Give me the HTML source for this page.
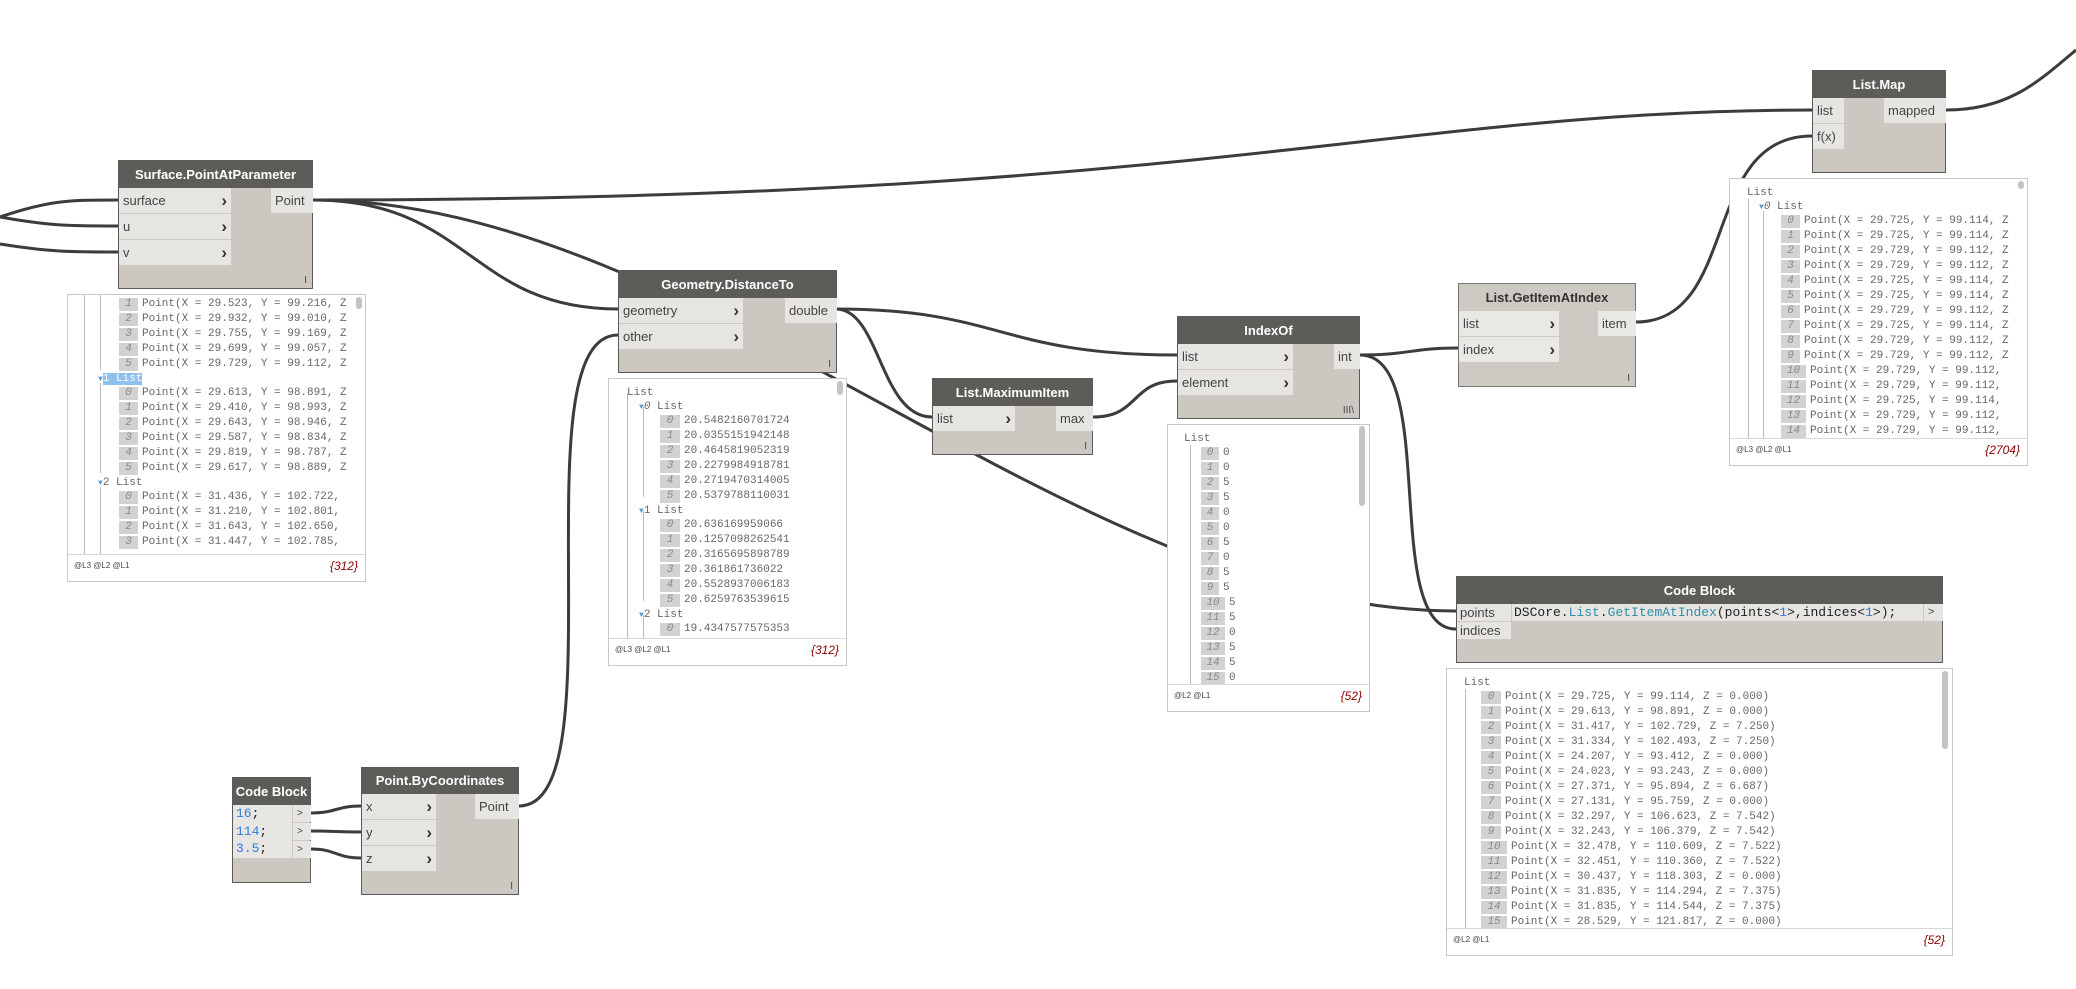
<!DOCTYPE html>
<html><head><meta charset="utf-8">
<style>
*{margin:0;padding:0;box-sizing:border-box}
body{width:2076px;height:989px;background:#fff;position:relative;overflow:hidden;font-family:"Liberation Sans",sans-serif}
.n{position:absolute;background:#ccc8c1;border:1px solid #5a5a5a}
.h{position:absolute;left:0;right:0;top:0;background:#5e5c59;color:#fff;font-weight:bold;font-size:13px;text-align:center}
.p{position:absolute;background:#e6e5e2;color:#444;font-size:13px;line-height:25px;height:25px;padding-left:4px}
.p b{position:absolute;right:4px;top:0;font-size:17px;color:#333}
.lac{position:absolute;right:5px;bottom:2px;font-size:10px;color:#444}
.pv{position:absolute;background:#fff;border:1px solid #c8c8c8;font-family:"Liberation Mono",monospace;font-size:11px;color:#666}
.in{position:absolute;left:0;top:0;right:0;height:260px;overflow:hidden;border-bottom:1px solid #d8d8d8}
.r{position:absolute;white-space:nowrap;height:15px;line-height:15px}
.i{display:inline-block;background:#d2d2d2;color:#888;font-style:italic;text-align:center;margin-right:4px;height:13px;line-height:13px}
.ft{position:absolute;top:266px;left:6px;font-size:8px;color:#444;font-family:"Liberation Sans",sans-serif}
.ct{position:absolute;top:264px;right:7px;font-size:12px;font-style:italic;color:#8b0000;font-family:"Liberation Sans",sans-serif}
.vl{position:absolute;width:1px;background:#bbb}
.ar{color:#5b9bd5;font-size:8px}
.sb{position:absolute;background:#c4c4c4;border-radius:3px;width:6px}
</style></head><body>
<svg width="2076" height="989" style="position:absolute;left:0;top:0" fill="none" stroke="#3c3c3c" stroke-width="3">
<path d="M0,217 C50,200 70,200 118,200"/>
<path d="M0,217 C50,226 70,226 118,226"/>
<path d="M0,244 C50,252 70,252 118,252"/>
<path d="M313,200 C1200,200 1400,110 1812,110"/>
<path d="M313,200 C470,200 470,309 618,309"/>
<path d="M313,200 C700,200 1070,611 1456,611"/>
<path d="M519,806 C620,806 517,335 618,335"/>
<path d="M311,813 C336,813 336,806 361,806"/>
<path d="M311,831 C336,831 336,832 361,832"/>
<path d="M311,849 C336,849 336,858 361,858"/>
<path d="M836,309 C1000,309 1000,355 1177,355"/>
<path d="M836,309 C880,309 880,417 932,417"/>
<path d="M1093,417 C1140,417 1130,381 1177,381"/>
<path d="M1360,355 C1410,355 1410,348 1458,348"/>
<path d="M1360,355 C1440,355 1380,629 1456,629"/>
<path d="M1636,322 C1740,322 1700,136 1812,136"/>
<path d="M1946,110 C2010,110 2040,80 2076,50"/>
</svg>

<!-- Surface.PointAtParameter -->
<div class="n" style="left:118px;top:160px;width:195px;height:129px">
<div class="h" style="height:27px;line-height:27px">Surface.PointAtParameter</div>
<div class="p" style="left:0;top:27px;width:112px">surface<b>›</b></div>
<div class="p" style="left:0;top:53px;width:112px">u<b>›</b></div>
<div class="p" style="left:0;top:79px;width:112px">v<b>›</b></div>
<div class="p" style="left:152px;top:27px;width:42px">Point</div>
<div class="lac">I</div></div>
<div class="pv" style="left:67px;top:294px;width:299px;height:288px"><div class="in">
<div class="vl" style="left:16px;top:0;height:260px"></div><div class="vl" style="left:32px;top:0;height:75px"></div><div class="vl" style="left:32px;top:88px;height:90px"></div><div class="vl" style="left:32px;top:192px;height:70px"></div>
<div class="r" style="top:2px;left:51px"><span class="i" style="width:19px">1</span>Point(X = 29.523, Y = 99.216, Z</div>
<div class="r" style="top:17px;left:51px"><span class="i" style="width:19px">2</span>Point(X = 29.932, Y = 99.010, Z</div>
<div class="r" style="top:32px;left:51px"><span class="i" style="width:19px">3</span>Point(X = 29.755, Y = 99.169, Z</div>
<div class="r" style="top:47px;left:51px"><span class="i" style="width:19px">4</span>Point(X = 29.699, Y = 99.057, Z</div>
<div class="r" style="top:62px;left:51px"><span class="i" style="width:19px">5</span>Point(X = 29.729, Y = 99.112, Z</div>
<div class="r" style="top:77px;left:30px"><span class="ar">▼</span><span style="background:#8fc0ee;color:#fff">1 List</span></div>
<div class="r" style="top:91px;left:51px"><span class="i" style="width:19px">0</span>Point(X = 29.613, Y = 98.891, Z</div>
<div class="r" style="top:106px;left:51px"><span class="i" style="width:19px">1</span>Point(X = 29.410, Y = 98.993, Z</div>
<div class="r" style="top:121px;left:51px"><span class="i" style="width:19px">2</span>Point(X = 29.643, Y = 98.946, Z</div>
<div class="r" style="top:136px;left:51px"><span class="i" style="width:19px">3</span>Point(X = 29.587, Y = 98.834, Z</div>
<div class="r" style="top:151px;left:51px"><span class="i" style="width:19px">4</span>Point(X = 29.819, Y = 98.787, Z</div>
<div class="r" style="top:166px;left:51px"><span class="i" style="width:19px">5</span>Point(X = 29.617, Y = 98.889, Z</div>
<div class="r" style="top:181px;left:30px"><span class="ar">▼</span>2 List</div>
<div class="r" style="top:195px;left:51px"><span class="i" style="width:19px">0</span>Point(X = 31.436, Y = 102.722,</div>
<div class="r" style="top:210px;left:51px"><span class="i" style="width:19px">1</span>Point(X = 31.210, Y = 102.801,</div>
<div class="r" style="top:225px;left:51px"><span class="i" style="width:19px">2</span>Point(X = 31.643, Y = 102.650,</div>
<div class="r" style="top:240px;left:51px"><span class="i" style="width:19px">3</span>Point(X = 31.447, Y = 102.785,</div>
<div class="sb" style="left:288px;top:2px;height:12px"></div>
</div><div class="ft">@L3 @L2 @L1</div><div class="ct">{312}</div></div>

<!-- Geometry.DistanceTo -->
<div class="n" style="left:618px;top:270px;width:219px;height:103px">
<div class="h" style="height:27px;line-height:27px">Geometry.DistanceTo</div>
<div class="p" style="left:0;top:27px;width:124px">geometry<b>›</b></div>
<div class="p" style="left:0;top:53px;width:124px">other<b>›</b></div>
<div class="p" style="left:166px;top:27px;width:52px">double</div>
<div class="lac">I</div></div>
<div class="pv" style="left:608px;top:378px;width:239px;height:288px"><div class="in">
<div class="vl" style="left:18px;top:14px;height:250px"></div><div class="vl" style="left:34px;top:28px;height:90px"></div><div class="vl" style="left:34px;top:132px;height:90px"></div><div class="vl" style="left:34px;top:236px;height:30px"></div>
<div class="r" style="top:7px;left:18px">List</div>
<div class="r" style="top:21px;left:30px"><span class="ar">▼</span><i>0</i> List</div>
<div class="r" style="top:35px;left:51px"><span class="i" style="width:20px">0</span>20.5482160701724</div>
<div class="r" style="top:50px;left:51px"><span class="i" style="width:20px">1</span>20.0355151942148</div>
<div class="r" style="top:65px;left:51px"><span class="i" style="width:20px">2</span>20.4645819052319</div>
<div class="r" style="top:80px;left:51px"><span class="i" style="width:20px">3</span>20.2279984918781</div>
<div class="r" style="top:95px;left:51px"><span class="i" style="width:20px">4</span>20.2719470314005</div>
<div class="r" style="top:110px;left:51px"><span class="i" style="width:20px">5</span>20.5379788110031</div>
<div class="r" style="top:125px;left:30px"><span class="ar">▼</span>1 List</div>
<div class="r" style="top:139px;left:51px"><span class="i" style="width:20px">0</span>20.636169959066</div>
<div class="r" style="top:154px;left:51px"><span class="i" style="width:20px">1</span>20.1257098262541</div>
<div class="r" style="top:169px;left:51px"><span class="i" style="width:20px">2</span>20.3165695898789</div>
<div class="r" style="top:184px;left:51px"><span class="i" style="width:20px">3</span>20.361861736022</div>
<div class="r" style="top:199px;left:51px"><span class="i" style="width:20px">4</span>20.5528937006183</div>
<div class="r" style="top:214px;left:51px"><span class="i" style="width:20px">5</span>20.6259763539615</div>
<div class="r" style="top:229px;left:30px"><span class="ar">▼</span>2 List</div>
<div class="r" style="top:243px;left:51px"><span class="i" style="width:20px">0</span>19.4347577575353</div>
<div class="sb" style="left:228px;top:2px;height:14px"></div>
</div><div class="ft">@L3 @L2 @L1</div><div class="ct">{312}</div></div>

<!-- List.MaximumItem -->
<div class="n" style="left:932px;top:378px;width:161px;height:77px">
<div class="h" style="height:27px;line-height:27px">List.MaximumItem</div>
<div class="p" style="left:0;top:27px;width:82px">list<b>›</b></div>
<div class="p" style="left:123px;top:27px;width:37px">max</div>
<div class="lac">I</div></div>

<!-- IndexOf -->
<div class="n" style="left:1177px;top:316px;width:183px;height:103px">
<div class="h" style="height:27px;line-height:27px">IndexOf</div>
<div class="p" style="left:0;top:27px;width:115px">list<b>›</b></div>
<div class="p" style="left:0;top:53px;width:115px">element<b>›</b></div>
<div class="p" style="left:156px;top:27px;width:26px">int</div>
<div class="lac">III\</div></div>
<div class="pv" style="left:1167px;top:424px;width:203px;height:288px"><div class="in">
<div class="vl" style="left:22px;top:20px;height:245px"></div>
<div class="r" style="top:7px;left:16px">List</div>
<div class="r" style="top:21px;left:33px"><span class="i" style="width:18px">0</span>0</div>
<div class="r" style="top:36px;left:33px"><span class="i" style="width:18px">1</span>0</div>
<div class="r" style="top:51px;left:33px"><span class="i" style="width:18px">2</span>5</div>
<div class="r" style="top:66px;left:33px"><span class="i" style="width:18px">3</span>5</div>
<div class="r" style="top:81px;left:33px"><span class="i" style="width:18px">4</span>0</div>
<div class="r" style="top:96px;left:33px"><span class="i" style="width:18px">5</span>0</div>
<div class="r" style="top:111px;left:33px"><span class="i" style="width:18px">6</span>5</div>
<div class="r" style="top:126px;left:33px"><span class="i" style="width:18px">7</span>0</div>
<div class="r" style="top:141px;left:33px"><span class="i" style="width:18px">8</span>5</div>
<div class="r" style="top:156px;left:33px"><span class="i" style="width:18px">9</span>5</div>
<div class="r" style="top:171px;left:33px"><span class="i" style="width:24px">10</span>5</div>
<div class="r" style="top:186px;left:33px"><span class="i" style="width:24px">11</span>5</div>
<div class="r" style="top:201px;left:33px"><span class="i" style="width:24px">12</span>0</div>
<div class="r" style="top:216px;left:33px"><span class="i" style="width:24px">13</span>5</div>
<div class="r" style="top:231px;left:33px"><span class="i" style="width:24px">14</span>5</div>
<div class="r" style="top:246px;left:33px"><span class="i" style="width:24px">15</span>0</div>
<div class="sb" style="left:191px;top:1px;height:80px"></div>
</div><div class="ft">@L2 @L1</div><div class="ct">{52}</div></div>

<!-- List.GetItemAtIndex -->
<div class="n" style="left:1458px;top:283px;width:178px;height:104px;background:#cdc9c3;border-color:#777">
<div class="h" style="height:27px;line-height:27px;background:#cdc9c3;color:#333">List.GetItemAtIndex</div>
<div class="p" style="left:0;top:27px;width:100px;background:#e9e8e5">list<b>›</b></div>
<div class="p" style="left:0;top:53px;width:100px;background:#e9e8e5">index<b>›</b></div>
<div class="p" style="left:139px;top:27px;width:38px;background:#e9e8e5">item</div>
<div class="lac">I</div></div>

<!-- List.Map -->
<div class="n" style="left:1812px;top:70px;width:134px;height:103px">
<div class="h" style="height:27px;line-height:27px">List.Map</div>
<div class="p" style="left:0;top:27px;width:31px">list</div>
<div class="p" style="left:0;top:53px;width:31px">f(x)</div>
<div class="p" style="left:71px;top:27px;width:62px">mapped</div></div>
<div class="pv" style="left:1729px;top:178px;width:299px;height:288px"><div class="in">
<div class="vl" style="left:18px;top:20px;height:245px"></div><div class="vl" style="left:33px;top:32px;height:235px"></div>
<div class="r" style="top:7px;left:17px">List</div>
<div class="r" style="top:21px;left:29px"><span class="ar">▼</span><i>0</i> List</div>
<div class="r" style="top:35px;left:51px"><span class="i" style="width:19px">0</span>Point(X = 29.725, Y = 99.114, Z</div>
<div class="r" style="top:50px;left:51px"><span class="i" style="width:19px">1</span>Point(X = 29.725, Y = 99.114, Z</div>
<div class="r" style="top:65px;left:51px"><span class="i" style="width:19px">2</span>Point(X = 29.729, Y = 99.112, Z</div>
<div class="r" style="top:80px;left:51px"><span class="i" style="width:19px">3</span>Point(X = 29.729, Y = 99.112, Z</div>
<div class="r" style="top:95px;left:51px"><span class="i" style="width:19px">4</span>Point(X = 29.725, Y = 99.114, Z</div>
<div class="r" style="top:110px;left:51px"><span class="i" style="width:19px">5</span>Point(X = 29.725, Y = 99.114, Z</div>
<div class="r" style="top:125px;left:51px"><span class="i" style="width:19px">6</span>Point(X = 29.729, Y = 99.112, Z</div>
<div class="r" style="top:140px;left:51px"><span class="i" style="width:19px">7</span>Point(X = 29.725, Y = 99.114, Z</div>
<div class="r" style="top:155px;left:51px"><span class="i" style="width:19px">8</span>Point(X = 29.729, Y = 99.112, Z</div>
<div class="r" style="top:170px;left:51px"><span class="i" style="width:19px">9</span>Point(X = 29.729, Y = 99.112, Z</div>
<div class="r" style="top:185px;left:51px"><span class="i" style="width:25px">10</span>Point(X = 29.729, Y = 99.112,</div>
<div class="r" style="top:200px;left:51px"><span class="i" style="width:25px">11</span>Point(X = 29.729, Y = 99.112,</div>
<div class="r" style="top:215px;left:51px"><span class="i" style="width:25px">12</span>Point(X = 29.725, Y = 99.114,</div>
<div class="r" style="top:230px;left:51px"><span class="i" style="width:25px">13</span>Point(X = 29.729, Y = 99.112,</div>
<div class="r" style="top:245px;left:51px"><span class="i" style="width:25px">14</span>Point(X = 29.729, Y = 99.112,</div>
<div class="sb" style="left:288px;top:2px;height:8px"></div>
</div><div class="ft">@L3 @L2 @L1</div><div class="ct">{2704}</div></div>

<!-- Code Block big -->
<div class="n" style="left:1456px;top:576px;width:487px;height:87px">
<div class="h" style="height:27px;line-height:27px">Code Block</div>
<div class="p" style="left:0;top:27px;width:54px;height:17px;line-height:17px;padding-left:3px">points</div>
<div class="p" style="left:0;top:45px;width:54px;height:17px;line-height:17px;padding-left:3px">indices</div>
<div class="p" style="left:55px;top:27px;width:411px;height:17px;line-height:17px;font-family:'Liberation Mono',monospace;font-size:13px;color:#222;padding-left:2px">DSCore.<span style="color:#2e8fa8">List</span>.<span style="color:#2e8fa8">GetItemAtIndex</span>(points&lt;<span style="color:#2b7de0">1</span>&gt;,indices&lt;<span style="color:#2b7de0">1</span>&gt;);</div>
<div class="p" style="left:467px;top:27px;width:19px;height:17px;line-height:17px;font-size:11px">&gt;</div></div>
<div class="pv" style="left:1446px;top:668px;width:507px;height:288px"><div class="in">
<div class="vl" style="left:18px;top:20px;height:245px"></div>
<div class="r" style="top:7px;left:17px">List</div>
<div class="r" style="top:21px;left:34px"><span class="i" style="width:20px">0</span>Point(X = 29.725, Y = 99.114, Z = 0.000)</div>
<div class="r" style="top:36px;left:34px"><span class="i" style="width:20px">1</span>Point(X = 29.613, Y = 98.891, Z = 0.000)</div>
<div class="r" style="top:51px;left:34px"><span class="i" style="width:20px">2</span>Point(X = 31.417, Y = 102.729, Z = 7.250)</div>
<div class="r" style="top:66px;left:34px"><span class="i" style="width:20px">3</span>Point(X = 31.334, Y = 102.493, Z = 7.250)</div>
<div class="r" style="top:81px;left:34px"><span class="i" style="width:20px">4</span>Point(X = 24.207, Y = 93.412, Z = 0.000)</div>
<div class="r" style="top:96px;left:34px"><span class="i" style="width:20px">5</span>Point(X = 24.023, Y = 93.243, Z = 0.000)</div>
<div class="r" style="top:111px;left:34px"><span class="i" style="width:20px">6</span>Point(X = 27.371, Y = 95.894, Z = 6.687)</div>
<div class="r" style="top:126px;left:34px"><span class="i" style="width:20px">7</span>Point(X = 27.131, Y = 95.759, Z = 0.000)</div>
<div class="r" style="top:141px;left:34px"><span class="i" style="width:20px">8</span>Point(X = 32.297, Y = 106.623, Z = 7.542)</div>
<div class="r" style="top:156px;left:34px"><span class="i" style="width:20px">9</span>Point(X = 32.243, Y = 106.379, Z = 7.542)</div>
<div class="r" style="top:171px;left:34px"><span class="i" style="width:26px">10</span>Point(X = 32.478, Y = 110.609, Z = 7.522)</div>
<div class="r" style="top:186px;left:34px"><span class="i" style="width:26px">11</span>Point(X = 32.451, Y = 110.360, Z = 7.522)</div>
<div class="r" style="top:201px;left:34px"><span class="i" style="width:26px">12</span>Point(X = 30.437, Y = 118.303, Z = 0.000)</div>
<div class="r" style="top:216px;left:34px"><span class="i" style="width:26px">13</span>Point(X = 31.835, Y = 114.294, Z = 7.375)</div>
<div class="r" style="top:231px;left:34px"><span class="i" style="width:26px">14</span>Point(X = 31.835, Y = 114.544, Z = 7.375)</div>
<div class="r" style="top:246px;left:34px"><span class="i" style="width:26px">15</span>Point(X = 28.529, Y = 121.817, Z = 0.000)</div>
<div class="sb" style="left:495px;top:2px;height:78px"></div>
</div><div class="ft">@L2 @L1</div><div class="ct">{52}</div></div>

<!-- Code Block small -->
<div class="n" style="left:232px;top:777px;width:79px;height:106px">
<div class="h" style="height:27px;line-height:27px">Code Block</div>
<div style="position:absolute;left:0;top:27px;width:59px;height:53px;background:#e8e6e3;font-family:'Liberation Mono',monospace;font-size:13px;line-height:17.5px;padding-left:3px;color:#222"><span style="color:#2b7de0">16</span>;<br><span style="color:#2b7de0">114</span>;<br><span style="color:#2b7de0">3.5</span>;</div>
<div class="p" style="left:60px;top:27px;width:18px;height:17px;line-height:17px;font-size:10px">&gt;</div>
<div class="p" style="left:60px;top:45px;width:18px;height:17px;line-height:17px;font-size:10px">&gt;</div>
<div class="p" style="left:60px;top:63px;width:18px;height:17px;line-height:17px;font-size:10px">&gt;</div></div>

<!-- Point.ByCoordinates -->
<div class="n" style="left:361px;top:767px;width:158px;height:128px">
<div class="h" style="height:26px;line-height:26px">Point.ByCoordinates</div>
<div class="p" style="left:0;top:26px;width:74px">x<b>›</b></div>
<div class="p" style="left:0;top:52px;width:74px">y<b>›</b></div>
<div class="p" style="left:0;top:78px;width:74px">z<b>›</b></div>
<div class="p" style="left:113px;top:26px;width:44px">Point</div>
<div class="lac">I</div></div>
</body></html>
